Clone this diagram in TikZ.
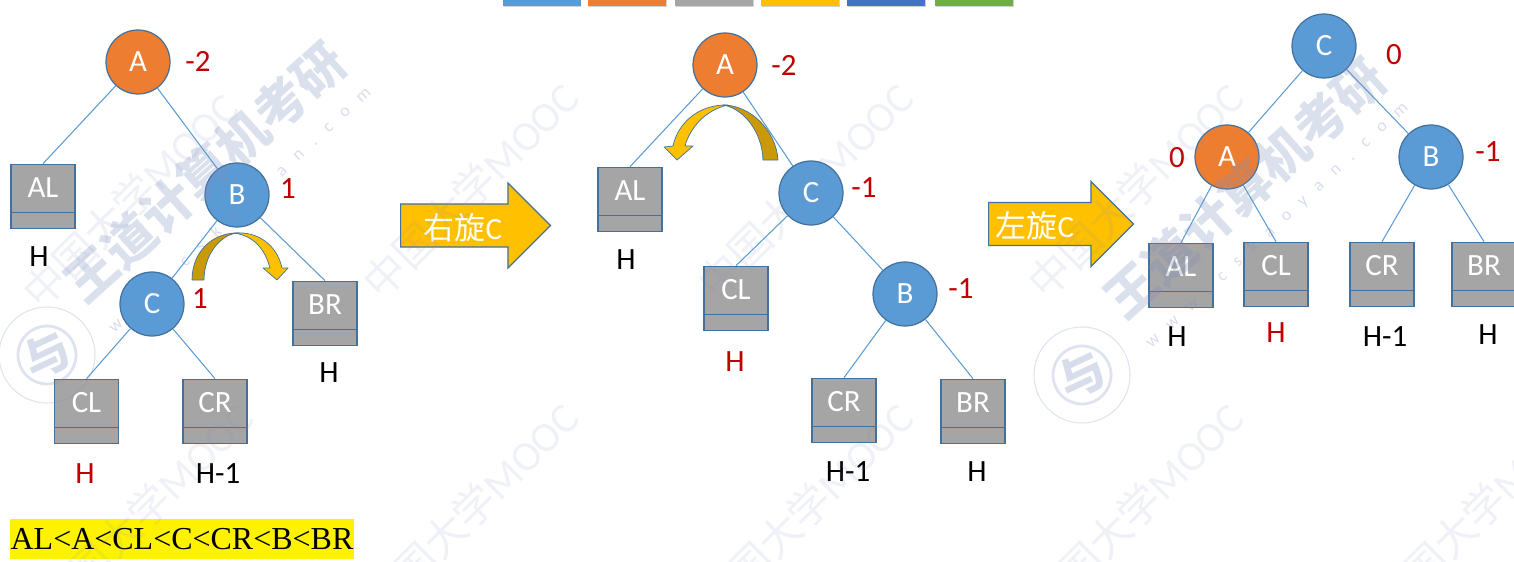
\documentclass[tikz,border=0pt]{standalone}
\usepackage{fontspec}
\setmainfont{Carlito}
\newfontfamily\cjk{Noto Sans CJK SC}
\newfontfamily\timesfont{Liberation Serif}
\newfontfamily\sitefont[LetterSpace=80]{Carlito}
\usetikzlibrary{shapes.multipart,shapes.arrows,shadows}
\definecolor{nodeblue}{HTML}{5B9BD5}
\definecolor{nodeorange}{HTML}{ED7D31}
\definecolor{boxgray}{HTML}{A5A5A5}
\definecolor{arrowgold}{HTML}{FFC000}
\definecolor{arrowdark}{HTML}{C99A06}
\definecolor{edgeblue}{HTML}{41719C}
\definecolor{numred}{HTML}{C00000}
\definecolor{legendblue}{HTML}{4472C4}
\definecolor{legendgreen}{HTML}{70AD47}
\definecolor{wmarkblue}{HTML}{7F8FC0}
\newcommand{\boxfoot}{\nodepart{two}\rule{0pt}{0.18cm}}
\tikzset{
    treenode/.style={circle, draw=edgeblue, line width=0.7pt, fill=nodeblue, text=white, minimum size=1.28cm, inner sep=0pt, font=\fontsize{17.6}{20}\selectfont},
    keybox/.style={rectangle split, rectangle split parts=2, draw=edgeblue, line width=0.7pt, fill=boxgray, text=white, inner xsep=0pt, inner ysep=0.06cm, text width=1.28cm, align=center, text height=0.60cm, text depth=0.22cm, font=\fontsize{17.6}{20}\selectfont},
    treeline/.style={draw=nodeblue, line width=0.6pt},
    heightlabel/.style={inner sep=0pt, font=\fontsize{17.6}{20}\selectfont},
    balance/.style={heightlabel, text=numred},
    bigarrow/.style={single arrow, draw=edgeblue, line width=0.7pt, fill=arrowgold, anchor=tail, single arrow head extend=0.42cm, single arrow tip angle=90, single arrow head indent=0pt, inner xsep=0pt, inner ysep=0.42cm},
    arrowlabel/.style={text=white, inner sep=0pt, font=\fontsize{17.6}{20}\selectfont},
    legendbar/.style={rectangle, fill=#1, minimum width=1.56cm, minimum height=0.2cm, inner sep=0pt, drop shadow={shadow xshift=0.01cm, shadow yshift=-0.03cm, opacity=0.35}},
    curvearrow/.style={draw=edgeblue, line width=0.4pt, line join=round},
    wmark/.style={text=wmarkblue, text opacity=0.12, rotate=45, inner sep=0pt, font=\fontsize{24}{26}\selectfont},
    wmarkbold/.style={text=wmarkblue, text opacity=0.28, rotate=42, inner sep=0pt, font=\fontsize{29}{31}\selectfont\bfseries},
    wmarksite/.style={text=wmarkblue, text opacity=0.3, rotate=43, inner sep=0pt, font=\sitefont\fontsize{10}{12}\selectfont},
    wmarklogo/.style={text=wmarkblue, text opacity=0.3, rotate=25, inner sep=0pt, font=\cjk\fontsize{26}{28}\selectfont\bfseries}
}
\begin{document}
\begin{tikzpicture}[x=0.02cm, y=-0.02cm]
    \useasboundingbox (0,0) rectangle (1514,561);
    % colour bars along the top edge
    \foreach \x/\c [count=\i] in {542/nodeblue, 627/nodeorange, 714/boxgray, 800/arrowgold, 886/legendblue, 974/legendgreen}
        \node[legendbar=\c] (bar\i) at (\x,1) {};

    % first tree
    \node[treenode, fill=nodeorange] (A1) at (138,62) {A};
    \node[treenode] (B1) at (237,195) {B};
    \node[treenode] (C1) at (152,304) {C};
    \node[keybox] (AL1) at (43,196.5) {AL\boxfoot};
    \node[keybox] (BR1) at (325,313.5) {BR\boxfoot};
    \node[keybox] (CL1) at (86.5,411.5) {CL\boxfoot};
    \node[keybox] (CR1) at (215,411.5) {CR\boxfoot};
    \draw[treeline] (A1) -- (AL1.north);
    \draw[treeline] (A1) -- (B1);
    \draw[treeline] (B1) -- (C1);
    \draw[treeline] (B1) -- (BR1.north);
    \draw[treeline] (C1) -- (CL1.north);
    \draw[treeline] (C1) -- (CR1.north);
    \node[balance] (a1bal) at (198,61) {-2};
    \node[balance] (b1bal) at (288,189) {1};
    \node[balance] (c1bal) at (200,299) {1};
    \node[heightlabel] (al1h) at (39,257) {H};
    \node[heightlabel] (br1h) at (329,373) {H};
    \node[heightlabel, text=numred] (cl1h) at (85,474) {H};
    \node[heightlabel] (cr1h) at (218,474) {H-1};
    % curved arrow, C over B
    \filldraw[curvearrow, fill=arrowdark] (192,280) .. controls (192,252) and (212,233) .. (237,233) .. controls (220,235) and (204,255) .. (204,280) -- cycle;
    \filldraw[curvearrow, fill=arrowgold] (234,233) .. controls (258,231) and (277,245) .. (282,268) -- (288,268) -- (277,280) -- (263,268) -- (270,268) .. controls (265,250) and (255,236) .. (234,233) -- cycle;

    % second tree
    \node[treenode, fill=nodeorange] (A2) at (725,65) {A};
    \node[treenode] (C2) at (811,193) {C};
    \node[treenode] (B2) at (905,294) {B};
    \node[keybox] (AL2) at (630,199.5) {AL\boxfoot};
    \node[keybox] (CL2) at (736,298.5) {CL\boxfoot};
    \node[keybox] (CR2) at (844,410.5) {CR\boxfoot};
    \node[keybox] (BR2) at (973,411.5) {BR\boxfoot};
    \draw[treeline] (A2) -- (AL2.north);
    \draw[treeline] (A2) -- (C2);
    \draw[treeline] (C2) -- (CL2.north);
    \draw[treeline] (C2) -- (B2);
    \draw[treeline] (B2) -- (CR2.north);
    \draw[treeline] (B2) -- (BR2.north);
    \node[balance] (a2bal) at (784,65) {-2};
    \node[balance] (c2bal) at (864,188) {-1};
    \node[balance] (b2bal) at (961,289) {-1};
    \node[heightlabel] (al2h) at (626,260) {H};
    \node[heightlabel, text=numred] (cl2h) at (735,362) {H};
    \node[heightlabel] (cr2h) at (848,472) {H-1};
    \node[heightlabel] (br2h) at (977,472) {H};
    % curved arrow, C over A
    \filldraw[curvearrow, fill=arrowdark] (778,160) .. controls (776,130) and (750,105) .. (723,105) .. controls (742,108) and (762,130) .. (763,160) -- cycle;
    \filldraw[curvearrow, fill=arrowgold] (728,105) .. controls (700,104) and (678,122) .. (673,146) -- (664,147) -- (677,160) -- (693,146) -- (685,146) .. controls (690,128) and (705,110) .. (728,105) -- cycle;

    % third tree
    \node[treenode] (C3) at (1324,46) {C};
    \node[treenode, fill=nodeorange] (A3) at (1227,157) {A};
    \node[treenode] (B3) at (1431,157) {B};
    \node[keybox] (AL3) at (1181,275.5) {AL\boxfoot};
    \node[keybox] (CL3) at (1276,274.5) {CL\boxfoot};
    \node[keybox] (CR3) at (1382,274.5) {CR\boxfoot};
    \node[keybox] (BR3) at (1484,274.5) {BR\boxfoot};
    \draw[treeline] (C3) -- (A3);
    \draw[treeline] (C3) -- (B3);
    \draw[treeline] (A3) -- (AL3.north);
    \draw[treeline] (A3) -- (CL3.north);
    \draw[treeline] (B3) -- (CR3.north);
    \draw[treeline] (B3) -- (BR3.north);
    \node[balance] (c3bal) at (1394,55) {0};
    \node[balance] (a3bal) at (1177,158) {0};
    \node[balance] (b3bal) at (1488,152) {-1};
    \node[heightlabel] (al3h) at (1177,337) {H};
    \node[heightlabel, text=numred] (cl3h) at (1276,333) {H};
    \node[heightlabel] (cr3h) at (1385,337) {H-1};
    \node[heightlabel] (br3h) at (1488,335) {H};

    % big arrows
    \node[bigarrow, minimum height=3cm] (rotright) at (400,225.5) {};
    \node[arrowlabel] (rotrighttext) at (463,228) {{\cjk 右旋}C};
    \node[bigarrow, minimum height=2.9cm] (rotleft) at (988,224) {};
    \node[arrowlabel] (rotlefttext) at (1035,226) {{\cjk 左旋}C};

    % key order
    \node[fill=yellow, minimum width=6.88cm, minimum height=0.8cm, inner sep=0pt, font=\fontsize{18.2}{20}\selectfont\timesfont] (order) at (182,539) {AL<A<CL<C<CR<B<BR};

    % watermark
    \foreach \x/\y [count=\i] in {130/200, 470/190, 805/190, 1135/190, 145/510, 470/510, 805/510, 1135/510, 1480/510}
        \node[wmark] (mooc\i) at (\x,\y) {{\cjk 中国大学}MOOC};
    \node[wmarkbold] (brand1) at (205,172) {\cjk 王道计算机考研};
    \node[wmarkbold] (brand2) at (1245,188) {\cjk 王道计算机考研};
    \node[wmarksite] (site1) at (240,210) {www.cskaoyan.com};
    \node[wmarksite] (site2) at (1277,225) {www.cskaoyan.com};
    \foreach \x/\y [count=\i] in {47/355, 1082/375} {
        \draw[wmarkblue, opacity=0.25, line width=0.6pt] (\x,\y) circle (48);
        \draw[wmarkblue, opacity=0.25, line width=1.6pt] (\x,\y) circle (29);
        \node[wmarklogo] (logo\i) at (\x,\y) {与};
    }
\end{tikzpicture}
\end{document}
